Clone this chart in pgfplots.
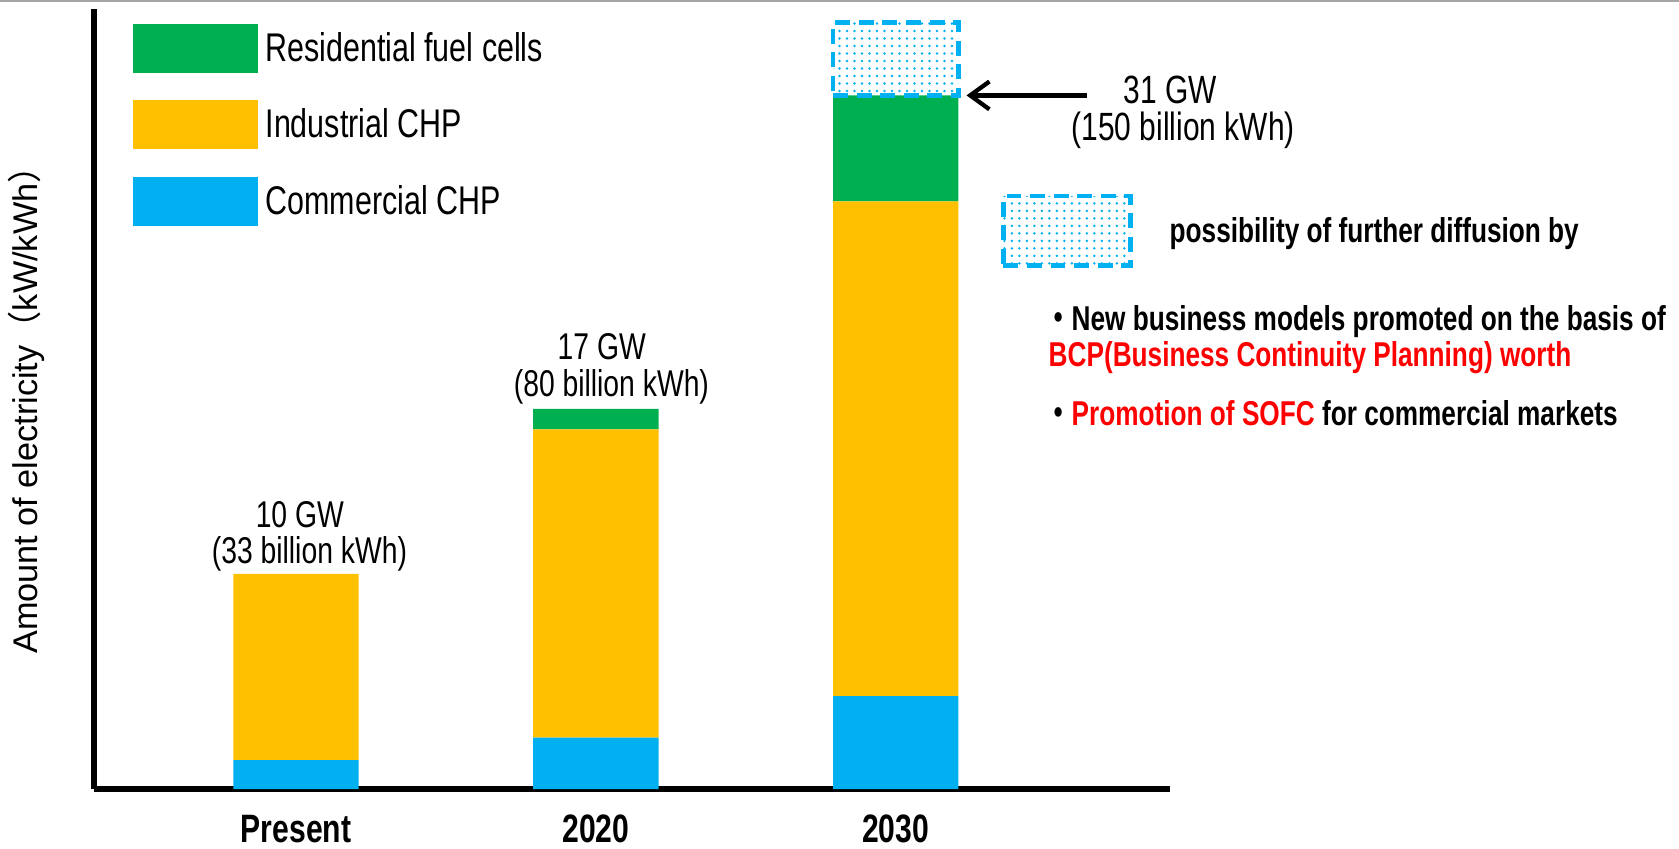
\documentclass[border=0pt]{standalone}
\usepackage{pgfplots}
\usepackage{pgfplotstable}
\pgfplotsset{compat=1.18}
\usetikzlibrary{patterns.meta,arrows.meta}
\usepackage{fontspec}
\setmainfont{Liberation Sans}[FakeStretch=0.76]
\newfontfamily\ylfont{Liberation Sans}
\newfontfamily\cjk{Noto Sans CJK JP}
\newfontfamily\cjkn{Noto Sans CJK JP}[FakeStretch=0.76]
\definecolor{cgreen}{HTML}{00B050}
\definecolor{cyellow}{HTML}{FFC000}
\definecolor{cblue}{HTML}{00B0F0}
\definecolor{cred}{HTML}{FF0000}
\newcommand\lf{\fontsize{17.4bp}{21bp}\selectfont}
\newcommand\lff{\fontsize{18.4bp}{22bp}\selectfont}
\newcommand\bt{\bfseries\fontsize{16.1bp}{19bp}\selectfont}

\pgfplotstableread{
x com ind res
0 1.30 8.37 0
1 2.31 13.85 0.91
2 4.18 22.21 4.76
}\datatab

\pgfplotsset{
  common/.style={
    at={(44bp,27.5bp)}, anchor=south west,
    scale only axis, width=502.5bp, height=364.5bp,
    xmin=-0.673, xmax=2.916, ymin=0, ymax=35.05, clip=false},
  sw/.style={legend image code/.code={\fill[##1] (0bp,-11.5bp) rectangle (58.5bp,11.5bp);}},
  dotbox/.style={pattern={Dots[distance=3.5bp, radius=0.65bp]}, pattern color=cblue,
    draw=cblue, line width=2.2bp, dash pattern=on 7bp off 4bp}
}

\begin{document}
\begin{tikzpicture}
\path[use as bounding box] (0,0) rectangle (784bp,396bp);
\draw[gray!70, line width=1bp] (0,395.5bp) -- (784bp,395.5bp);

\begin{axis}[common,
  ybar stacked, bar width=0.418,
  axis x line=bottom, axis y line=left,
  axis line style={line width=2.8bp, -},
  ytick=\empty, xtick={0,1,2}, xticklabels={Present,2020,2030},
  major tick length=0pt,
  xticklabel style={font=\bfseries\fontsize{18.5bp}{22bp}\selectfont, anchor=base, yshift=-25bp},
  ylabel={Amount of electricity{\cjk （}kW/kWh{\cjk ）}},
  ylabel style={at={(axis description cs:-0.0527,0.4966)}, anchor=base, font=\ylfont\fontsize{16bp}{19bp}\selectfont, inner sep=0pt},
  reverse legend, legend cell align=left,
  legend style={draw=none, fill=none, at={(axis description cs:0,1)}, anchor=north west,
    xshift=18bp, yshift=-7bp, inner sep=0pt, outer sep=0pt,
    row sep=12.75bp, column sep=3.5bp,
    font=\fontsize{18.7bp}{22bp}\selectfont, nodes={inner sep=0pt}},
]
\addplot[fill=cblue, draw=none, sw] table[x=x, y=com] {\datatab};
\addlegendentry{Commercial CHP}
\addplot[fill=cyellow, draw=none, sw] table[x=x, y=ind] {\datatab};
\addlegendentry{Industrial CHP}
\addplot[fill=cgreen, draw=none, sw] table[x=x, y=res] {\datatab};
\addlegendentry{Residential fuel cells}
\end{axis}

\begin{axis}[common, hide axis]
\addplot[dotbox]
  coordinates {(1.791,31.15) (2.209,31.15) (2.209,34.42) (1.791,34.42)} -- cycle;
\addplot[dotbox]
  coordinates {(2.359,23.51) (2.784,23.51) (2.784,26.63) (2.359,26.63)} -- cycle;
\draw[-{Straight Barb[length=9bp,width=13bp]}, line width=2bp]
  (axis cs:2.6375,31.15) -- (axis cs:2.236,31.15);
\end{axis}

\begin{scope}[x=0.5bp, y=-0.5bp, yshift=396bp, every node/.style={inner sep=0pt}]
\node[anchor=base, font=\lf] at (280,492.5) {10 GW};
\node[anchor=base, font=\lf] at (289,526) {(33 billion kWh)};
\node[anchor=base, font=\lf] at (562,336) {17 GW};
\node[anchor=base, font=\lf] at (571,370.5) {(80 billion kWh)};
\node[anchor=base, font=\lff] at (1093,97) {31 GW};
\node[anchor=base, font=\lff] at (1105,131) {(150 billion kWh)};
\node[anchor=base west, font=\bt] at (1092,226.5) {possibility of further diffusion by};
\node[anchor=base west, font=\bt] at (976,308.5) {{\cjkn ・}New business models promoted on the basis of};
\node[anchor=base west, font=\bt, text=cred] at (979,342.5) {BCP(Business Continuity Planning) worth};
\node[anchor=base west, font=\bt] at (976,397.5) {{\cjkn ・}\textcolor{cred}{Promotion of SOFC} for commercial markets};
\end{scope}
\end{tikzpicture}
\end{document}
